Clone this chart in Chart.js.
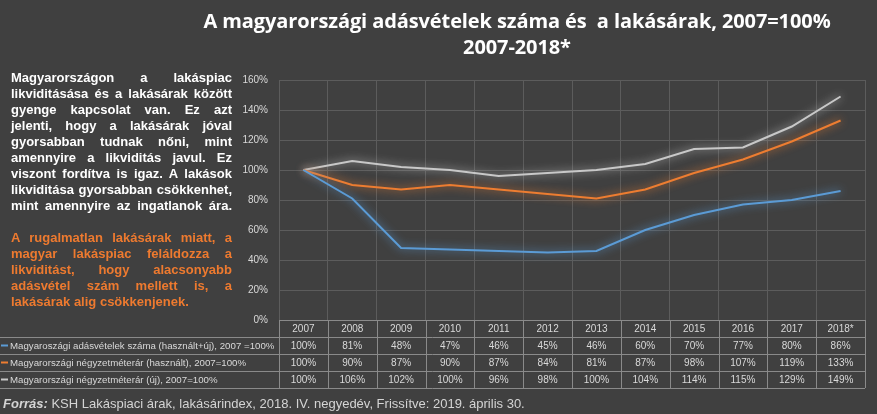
<!DOCTYPE html>
<html>
<head>
<meta charset="utf-8">
<script src="https://cdn.jsdelivr.net/npm/chart.js@4/dist/chart.umd.min.js"></script>
<style>
  html,body{margin:0;padding:0;background:#404040;}
  #wrap{position:relative;width:877px;height:414px;overflow:hidden;background:#404040;font-family:"Liberation Sans",Arial,sans-serif;}
  #c{position:absolute;left:0;top:0;}
  #title{position:absolute;left:157px;top:8px;width:720px;text-align:center;color:#fff;
    font-family:"Open Sans",sans-serif;font-weight:700;font-size:20px;line-height:26px;letter-spacing:-0.1px;}
  #txt{position:absolute;left:11px;top:70px;width:221px;font-weight:bold;font-size:13px;line-height:16px;color:#fff;}
  #txt div{text-align:justify;text-align-last:justify;}
  #txt div.last{text-align-last:left;}
  #txt .or{color:#ee7a2f;}
  #src{position:absolute;left:3px;top:396px;font-size:13px;color:#d4d4d4;}
  #src b{font-style:italic;}
</style>
</head>
<body>
<div id="wrap">
  <canvas id="c" width="877" height="414"></canvas>
  <div id="title">A magyarországi adásvételek száma és&nbsp; a lakásárak, 2007=100%<br>2007-2018*</div>
  <div id="txt">
    <div>Magyarországon a lakáspiac</div>
    <div>likviditásása és a lakásárak között</div>
    <div>gyenge kapcsolat van. Ez azt</div>
    <div>jelenti, hogy a lakásárak jóval</div>
    <div>gyorsabban tudnak nőni, mint</div>
    <div>amennyire a likviditás javul. Ez</div>
    <div>viszont fordítva is igaz. A lakások</div>
    <div>likviditása gyorsabban csökkenhet,</div>
    <div>mint amennyire az ingatlanok ára.</div>
    <div>&nbsp;</div>
    <div class="or">A rugalmatlan lakásárak miatt, a</div>
    <div class="or">magyar lakáspiac feláldozza a</div>
    <div class="or">likviditást, hogy alacsonyabb</div>
    <div class="or">adásvétel szám mellett is, a</div>
    <div class="or last">lakásárak alig csökkenjenek.</div>
  </div>
  <div id="src"><b>Forrás:</b> KSH Lakáspiaci árak, lakásárindex, 2018. IV. negyedév, Frissítve: 2019. április 30.</div>
</div>
<script>
const years = ["2007","2008","2009","2010","2011","2012","2013","2014","2015","2016","2017","2018*"];
const salesCount = [100,81,48,47,46,45,46,60,70,77,80,86];
const usedPrice = [100,90,87,90,87,84,81,87,98,107,119,133];
const newPrice = [100,106,102,100,96,98,100,104,114,115,129,149];
const seriesNames = [
  "Magyaroszági adásvételek száma (használt+új), 2007 =100%",
  "Magyarországi négyzetméterár (használt), 2007=100%",
  "Magyarországi négyzetméterár (új), 2007=100%"
];
const seriesColors = ["#5b9bd5","#ed7d31","#c8c8c8"];
const yTicks = [0,20,40,60,80,100,120,140,160];

const GRID = "#5c5c5c";
const TXT = "#d9d9d9";
const TFONT = "'Liberation Sans', Arial, sans-serif";

// glow under each line
const glow = {
  id:"glow",
  beforeDatasetDraw(chart, args){
    const ctx = chart.ctx;
    ctx.save();
    ctx.shadowColor = args.meta.dataset.options.borderColor;
    ctx.shadowBlur = 9;
  },
  afterDatasetDraw(chart){ chart.ctx.restore(); }
};

// data table under the plot
const dataTable = {
  id:"dataTable",
  afterDraw(chart){
    const ctx = chart.ctx, x = chart.scales.x;
    const top = chart.chartArea.bottom, rowH = 17;
    const colW = (x.right - x.left) / years.length;
    const rows = [salesCount, usedPrice, newPrice];
    ctx.save();
    ctx.strokeStyle = "#8a8a8a"; ctx.lineWidth = 1;
    ctx.beginPath();
    ctx.moveTo(x.left, top + 0.5); ctx.lineTo(x.right, top + 0.5);
    for(let r=1;r<=4;r++){
      const y = Math.round(top + r*rowH) + 0.5;
      ctx.moveTo(0, y); ctx.lineTo(x.right, y);
    }
    for(let i=0;i<=years.length;i++){
      const xx = Math.round(x.left + i*colW) + 0.5;
      ctx.moveTo(xx, top); ctx.lineTo(xx, top + 4*rowH);
    }
    ctx.stroke();

    ctx.font = "10px " + TFONT;
    ctx.fillStyle = TXT; ctx.textAlign = "center"; ctx.textBaseline = "middle";
    years.forEach((yr,i)=> ctx.fillText(yr, x.getPixelForValue(i), top + rowH/2 + 1));
    rows.forEach((vals,r)=>{
      const cy = top + (r+1)*rowH + rowH/2 + 1;
      vals.forEach((v,i)=> ctx.fillText(v + "%", x.getPixelForValue(i), cy));
    });
    // shrink label font so the longest name fits its cell
    let fs = 10;
    ctx.font = fs + "px " + TFONT;
    while(ctx.measureText(seriesNames[0]).width > x.left - 14 && fs > 7){
      fs -= 0.1; ctx.font = fs + "px " + TFONT;
    }
    ctx.textAlign = "left";
    rows.forEach((vals,r)=>{
      const cy = top + (r+1)*rowH + rowH/2 + 1;
      ctx.strokeStyle = seriesColors[r]; ctx.lineWidth = 2;
      ctx.beginPath(); ctx.moveTo(1, cy - 1); ctx.lineTo(8, cy - 1); ctx.stroke();
      ctx.fillStyle = TXT;
      ctx.fillText(seriesNames[r], 10, cy);
    });
    ctx.restore();
  }
};

new Chart(document.getElementById("c"), {
  type:"line",
  data:{
    labels: years,
    datasets: [salesCount, usedPrice, newPrice].map((d,i)=>({
      label: seriesNames[i], data: d,
      borderColor: seriesColors[i], backgroundColor: seriesColors[i],
      borderWidth: 2, pointRadius: 0, tension: 0, fill: false
    }))
  },
  options:{
    responsive:false, animation:false, devicePixelRatio:1,
    layout:{ padding:{ left:230, top:80, right:12, bottom:94 } },
    plugins:{ legend:{display:false}, tooltip:{enabled:false} },
    scales:{
      x:{
        offset:true,
        grid:{ offset:true, color:GRID, drawTicks:false },
        border:{ display:false },
        ticks:{ display:false },
        afterFit(s){ s.height = 0; }
      },
      y:{
        min:0, max:160,
        afterBuildTicks(s){ s.ticks = yTicks.map(v=>({value:v})); },
        grid:{ color:GRID, drawTicks:false },
        border:{ display:false },
        ticks:{ color:TXT, padding:11, font:{ size:10, family:TFONT }, callback:v=>v+"%" },
        afterFit(s){ s.width = 49; }
      }
    }
  },
  plugins:[glow, dataTable]
});
</script>
</body>
</html>
